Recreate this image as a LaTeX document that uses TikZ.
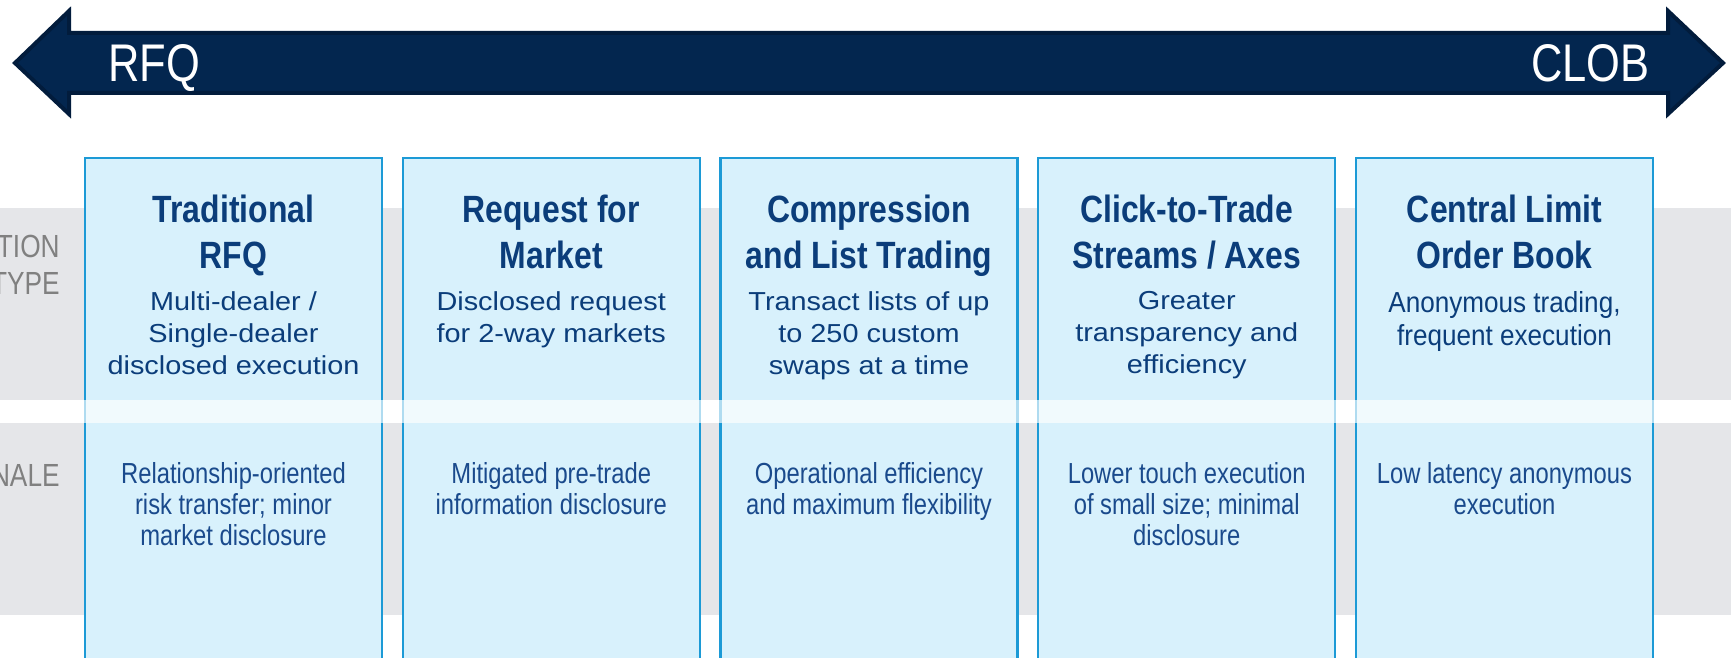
\documentclass[tikz,border=0pt]{standalone}
\usepackage{fontspec}
\setmainfont{Liberation Sans}
\newfontfamily\titlefont[FakeStretch=0.84]{Liberation Sans}
\newfontfamily\narrowfont[FakeStretch=0.82]{Liberation Sans}
\newfontfamily\midfont[FakeStretch=0.9]{Liberation Sans}
\newfontfamily\widefont[FakeStretch=1.11]{Liberation Sans}
\usepackage{xcolor}
\usepackage{tikz}
\definecolor{arrownavy}{HTML}{03264F}
\definecolor{arrowedge}{HTML}{021C3C}
\definecolor{bandgrey}{HTML}{E5E6E9}
\definecolor{boxfill}{HTML}{D8F1FC}
\definecolor{boxblue}{HTML}{1C9AD6}
\definecolor{navytext}{HTML}{0B3D7A}
\definecolor{rattext}{HTML}{1A4A8C}
\definecolor{sidegrey}{HTML}{808080}

\begin{document}
\begin{tikzpicture}[x=0.5pt,y=-0.5pt,
  band/.style={fill=bandgrey},
  box/.style={fill=boxfill, minimum width=148.5pt, minimum height=250pt, inner sep=0pt, outer sep=0pt},
  boxline/.style={draw=boxblue, line width=1.2pt},
  title/.style={anchor=north, inner sep=0pt, align=center, text=navytext, font=\titlefont\bfseries\fontsize{19}{23}\selectfont},
  sub/.style={anchor=north, inner sep=0pt, align=center, text=navytext, font=\widefont\fontsize{13}{16}\selectfont},
  subclob/.style={anchor=north, inner sep=0pt, align=center, text=navytext, font=\midfont\fontsize{14.5}{16.3}\selectfont},
  rat/.style={anchor=north, inner sep=0pt, align=center, text=rattext, font=\narrowfont\fontsize{14.5}{15.5}\selectfont},
  side/.style={anchor=north east, inner sep=0pt, align=right, text=sidegrey, font=\narrowfont\fontsize{16}{18.5}\selectfont},
  axislabel/.style={inner sep=0pt, text=white, font=\narrowfont\fontsize{26.5}{30}\selectfont}]
\useasboundingbox (0,0) rectangle (1731,658);

% grey rows
\fill[band] (0,208) rectangle (1731,400);
\fill[band] (0,423) rectangle (1731,615);

% arrow
\draw[fill=arrownavy, draw=arrowedge, line width=2pt] (15,63) -- (69,11) -- (69,33) -- (1668,33) -- (1668,11) -- (1723,63)
  -- (1668,114) -- (1668,93) -- (69,93) -- (69,114) -- cycle;
\node[axislabel, anchor=base west] (rfq) at (108,82) {RFQ};
\node[axislabel, anchor=base east] (clob) at (1650,82) {CLOB};

% row labels
\node[side] (sidetop) at (60,235) {TION\\TYPE};
\node[side] (sidebottom) at (60,464) {NALE};

% columns
\foreach \i/\st/\ttl/\sb/\rt in {
  1/sub/{Traditional\\RFQ}/{Multi-dealer /\\Single-dealer\\disclosed execution}/{Relationship-oriented\\risk transfer; minor\\market disclosure},
  2/sub/{Request for\\Market}/{Disclosed request\\for 2-way markets}/{Mitigated pre-trade\\information disclosure},
  3/sub/{Compression\\and List Trading}/{Transact lists of up\\to 250 custom\\swaps at a time}/{Operational efficiency\\and maximum flexibility},
  4/sub/{Click-to-Trade\\Streams / Axes}/{Greater\\transparency and\\efficiency}/{Lower touch execution\\of small size; minimal\\disclosure},
  5/subclob/{Central Limit\\Order Book}/{Anonymous trading,\\frequent execution}/{Low latency anonymous\\execution}}{
  \pgfmathsetmacro\cx{233.5+317.75*(\i-1)}
  \node[box] (b\i) at (\cx,408) {};
  \draw[boxline] (b\i.south west) -- (b\i.north west) -- (b\i.north east) -- (b\i.south east);
  \node[title] (t\i) at (\cx,195) {\ttl};
  \node[\st] (s\i) at (\cx,291) {\sb};
  \node[rat] (r\i) at (\cx,462) {\rt};
}

% light strip over the columns
\fill[white, opacity=0.65] (0,400) rectangle (1731,423);
\end{tikzpicture}
\end{document}
